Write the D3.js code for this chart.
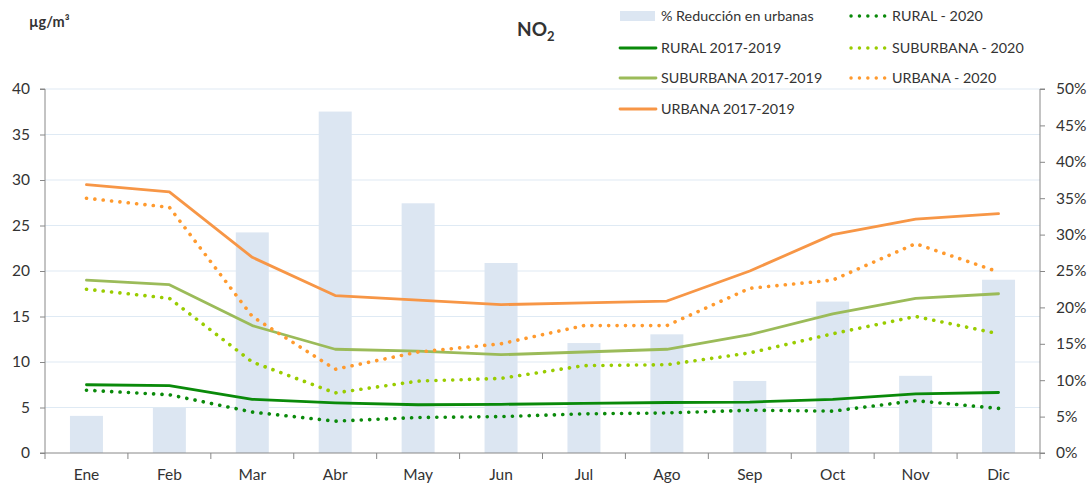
<!DOCTYPE html>
<html><head><meta charset="utf-8">
<script src="https://cdn.jsdelivr.net/npm/d3@7"></script>
<style>body{margin:0;background:#fff}svg{display:block}text{font-family:Lato,"Open Sans",sans-serif;fill:#333}</style>
</head><body><svg id="c" width="1088" height="483"></svg>
<script>
const months = ["Ene","Feb","Mar","Abr","May","Jun","Jul","Ago","Sep","Oct","Nov","Dic"];
const reduccion = [5.1,6.2,30.3,46.9,34.3,26.1,15.1,16.3,9.9,20.8,10.6,23.8];
const rural1719 = [7.5,7.4,5.9,5.5,5.3,5.35,5.45,5.55,5.6,5.9,6.5,6.65];
const suburb1719 = [19.0,18.5,14.0,11.4,11.2,10.8,11.1,11.4,13.0,15.3,17.0,17.5];
const urban1719 = [29.5,28.7,21.5,17.3,16.8,16.3,16.5,16.7,20.0,24.0,25.7,26.3];
const rural2020 = [6.9,6.4,4.5,3.5,3.9,4.0,4.3,4.4,4.7,4.6,5.75,4.9];
const suburb2020 = [18.0,17.0,10.0,6.6,7.9,8.2,9.6,9.7,11.0,13.1,15.0,13.1];
const urban2020 = [28.0,27.0,15.0,9.2,11.1,12.0,14.0,14.0,18.1,19.0,23.0,19.9];
const leftTicks = [0,5,10,15,20,25,30,35,40];
const rightTicks = [0,5,10,15,20,25,30,35,40,45,50];

const svg = d3.select("#c");
const L = 45, R = 1040, T = 89, B = 453;
const xb = d3.scaleBand().domain(months).range([L, R]);
const y = d3.scaleLinear().domain([0, 40]).range([B, T]);
const y2 = d3.scaleLinear().domain([0, 50]).range([B, T]);

// gridlines
svg.append("g").selectAll("line").data(leftTicks.slice(1)).join("line")
  .attr("x1", L).attr("x2", R).attr("y1", d => y(d)).attr("y2", d => y(d))
  .attr("stroke", "#dfeaf4").attr("stroke-width", 1.2);

// bars
svg.append("g").selectAll("rect").data(reduccion).join("rect")
  .attr("x", (d, i) => xb(months[i]) + xb.bandwidth()/2 - 16.5)
  .attr("width", 33)
  .attr("y", d => y2(d)).attr("height", d => B - y2(d))
  .attr("fill", "#dce6f2");

// axes
const axL = svg.append("g").attr("transform", `translate(${L},0)`)
  .call(d3.axisLeft(y).tickValues(leftTicks).tickSize(5).tickPadding(10));
const axR = svg.append("g").attr("transform", `translate(${R},0)`)
  .call(d3.axisRight(y2).tickValues(rightTicks).tickSize(5).tickPadding(11).tickFormat(d => d + "%"));
const axB = svg.append("g").attr("transform", `translate(0,${B})`)
  .call(d3.axisBottom(xb).tickSize(0).tickPadding(16));
axB.selectAll(".tick line").remove();
axB.append("g").selectAll("line").data(d3.range(13)).join("line")
  .attr("x1", d => L + d * xb.step()).attr("x2", d => L + d * xb.step())
  .attr("y1", 0).attr("y2", 6).attr("stroke", "#888");
[axL, axR, axB].forEach(a => {
  a.select(".domain").attr("stroke", "#888");
  a.selectAll(".tick line").attr("stroke", "#888");
  a.selectAll("text").style("font-size", "15.5px").attr("fill", "#333").style("font-family", "Lato, sans-serif");
});
axL.select(".domain").attr("d", `M-5,${T}H0V${B}H-5`);
axR.select(".domain").attr("d", `M5,${T}H0V${B}H5`);
axB.select(".domain").attr("d", `M${L},0H${R}`);

// lines
const line = d3.line().x((d, i) => xb(months[i]) + xb.bandwidth()/2).y(d => y(d));
const series = [
  {v: suburb1719, c: "#9bbb59", dot: false},
  {v: urban1719, c: "#f79646", dot: false},
  {v: rural1719, c: "#0a8a0a", dot: false},
  {v: urban2020, c: "#ff9a2e", dot: true},
  {v: suburb2020, c: "#99cc00", dot: true},
  {v: rural2020, c: "#0a8a0a", dot: true}
];
series.forEach(s => {
  svg.append("path").datum(s.v).attr("d", line).attr("fill", "none")
    .attr("stroke", s.c).attr("stroke-width", s.dot ? 3.6 : 2.8)
    .attr("stroke-linecap", "round").attr("stroke-linejoin", "round")
    .attr("stroke-dasharray", s.dot ? "0.1 8.3" : null);
});

// titles
svg.append("text").attr("x", 29).attr("y", 27).style("font-size", "14.5px").style("font-weight", "bold").text("µg/m³");
const t = svg.append("text").attr("x", 517).attr("y", 36).style("font-size", "19px").style("font-weight", "bold");
t.append("tspan").text("NO");
t.append("tspan").attr("dy", 5).style("font-size", "13px").text("2");

// legend
const leg = [
  {t: "% Reducción en urbanas", c: "#dce6f2", k: "bar", x: 620, y: 16},
  {t: "RURAL 2017-2019", c: "#0a8a0a", k: "solid", x: 620, y: 48},
  {t: "SUBURBANA 2017-2019", c: "#9bbb59", k: "solid", x: 620, y: 78},
  {t: "URBANA 2017-2019", c: "#f79646", k: "solid", x: 620, y: 109},
  {t: "RURAL - 2020", c: "#0a8a0a", k: "dot", x: 849, y: 16},
  {t: "SUBURBANA - 2020", c: "#99cc00", k: "dot", x: 849, y: 48},
  {t: "URBANA - 2020", c: "#ff9a2e", k: "dot", x: 849, y: 78}
];
leg.forEach(l => {
  const g = svg.append("g");
  if (l.k === "bar") {
    g.append("rect").attr("x", l.x).attr("y", l.y - 5).attr("width", 35).attr("height", 10).attr("fill", l.c);
  } else {
    g.append("line").attr("x1", l.x + (l.k === "dot" ? 2 : 0)).attr("x2", l.x + (l.k === "dot" ? 40 : 36))
      .attr("y1", l.y).attr("y2", l.y).attr("stroke", l.c)
      .attr("stroke-width", l.k === "dot" ? 3.4 : 2.8).attr("stroke-linecap", "round")
      .attr("stroke-dasharray", l.k === "dot" ? "0.1 8.3" : null);
  }
  g.append("text").attr("x", l.k === "dot" ? l.x + 43 : l.x + 41).attr("y", l.y + 5)
    .style("font-size", "14.3px").text(l.t);
});
</script></body></html>
